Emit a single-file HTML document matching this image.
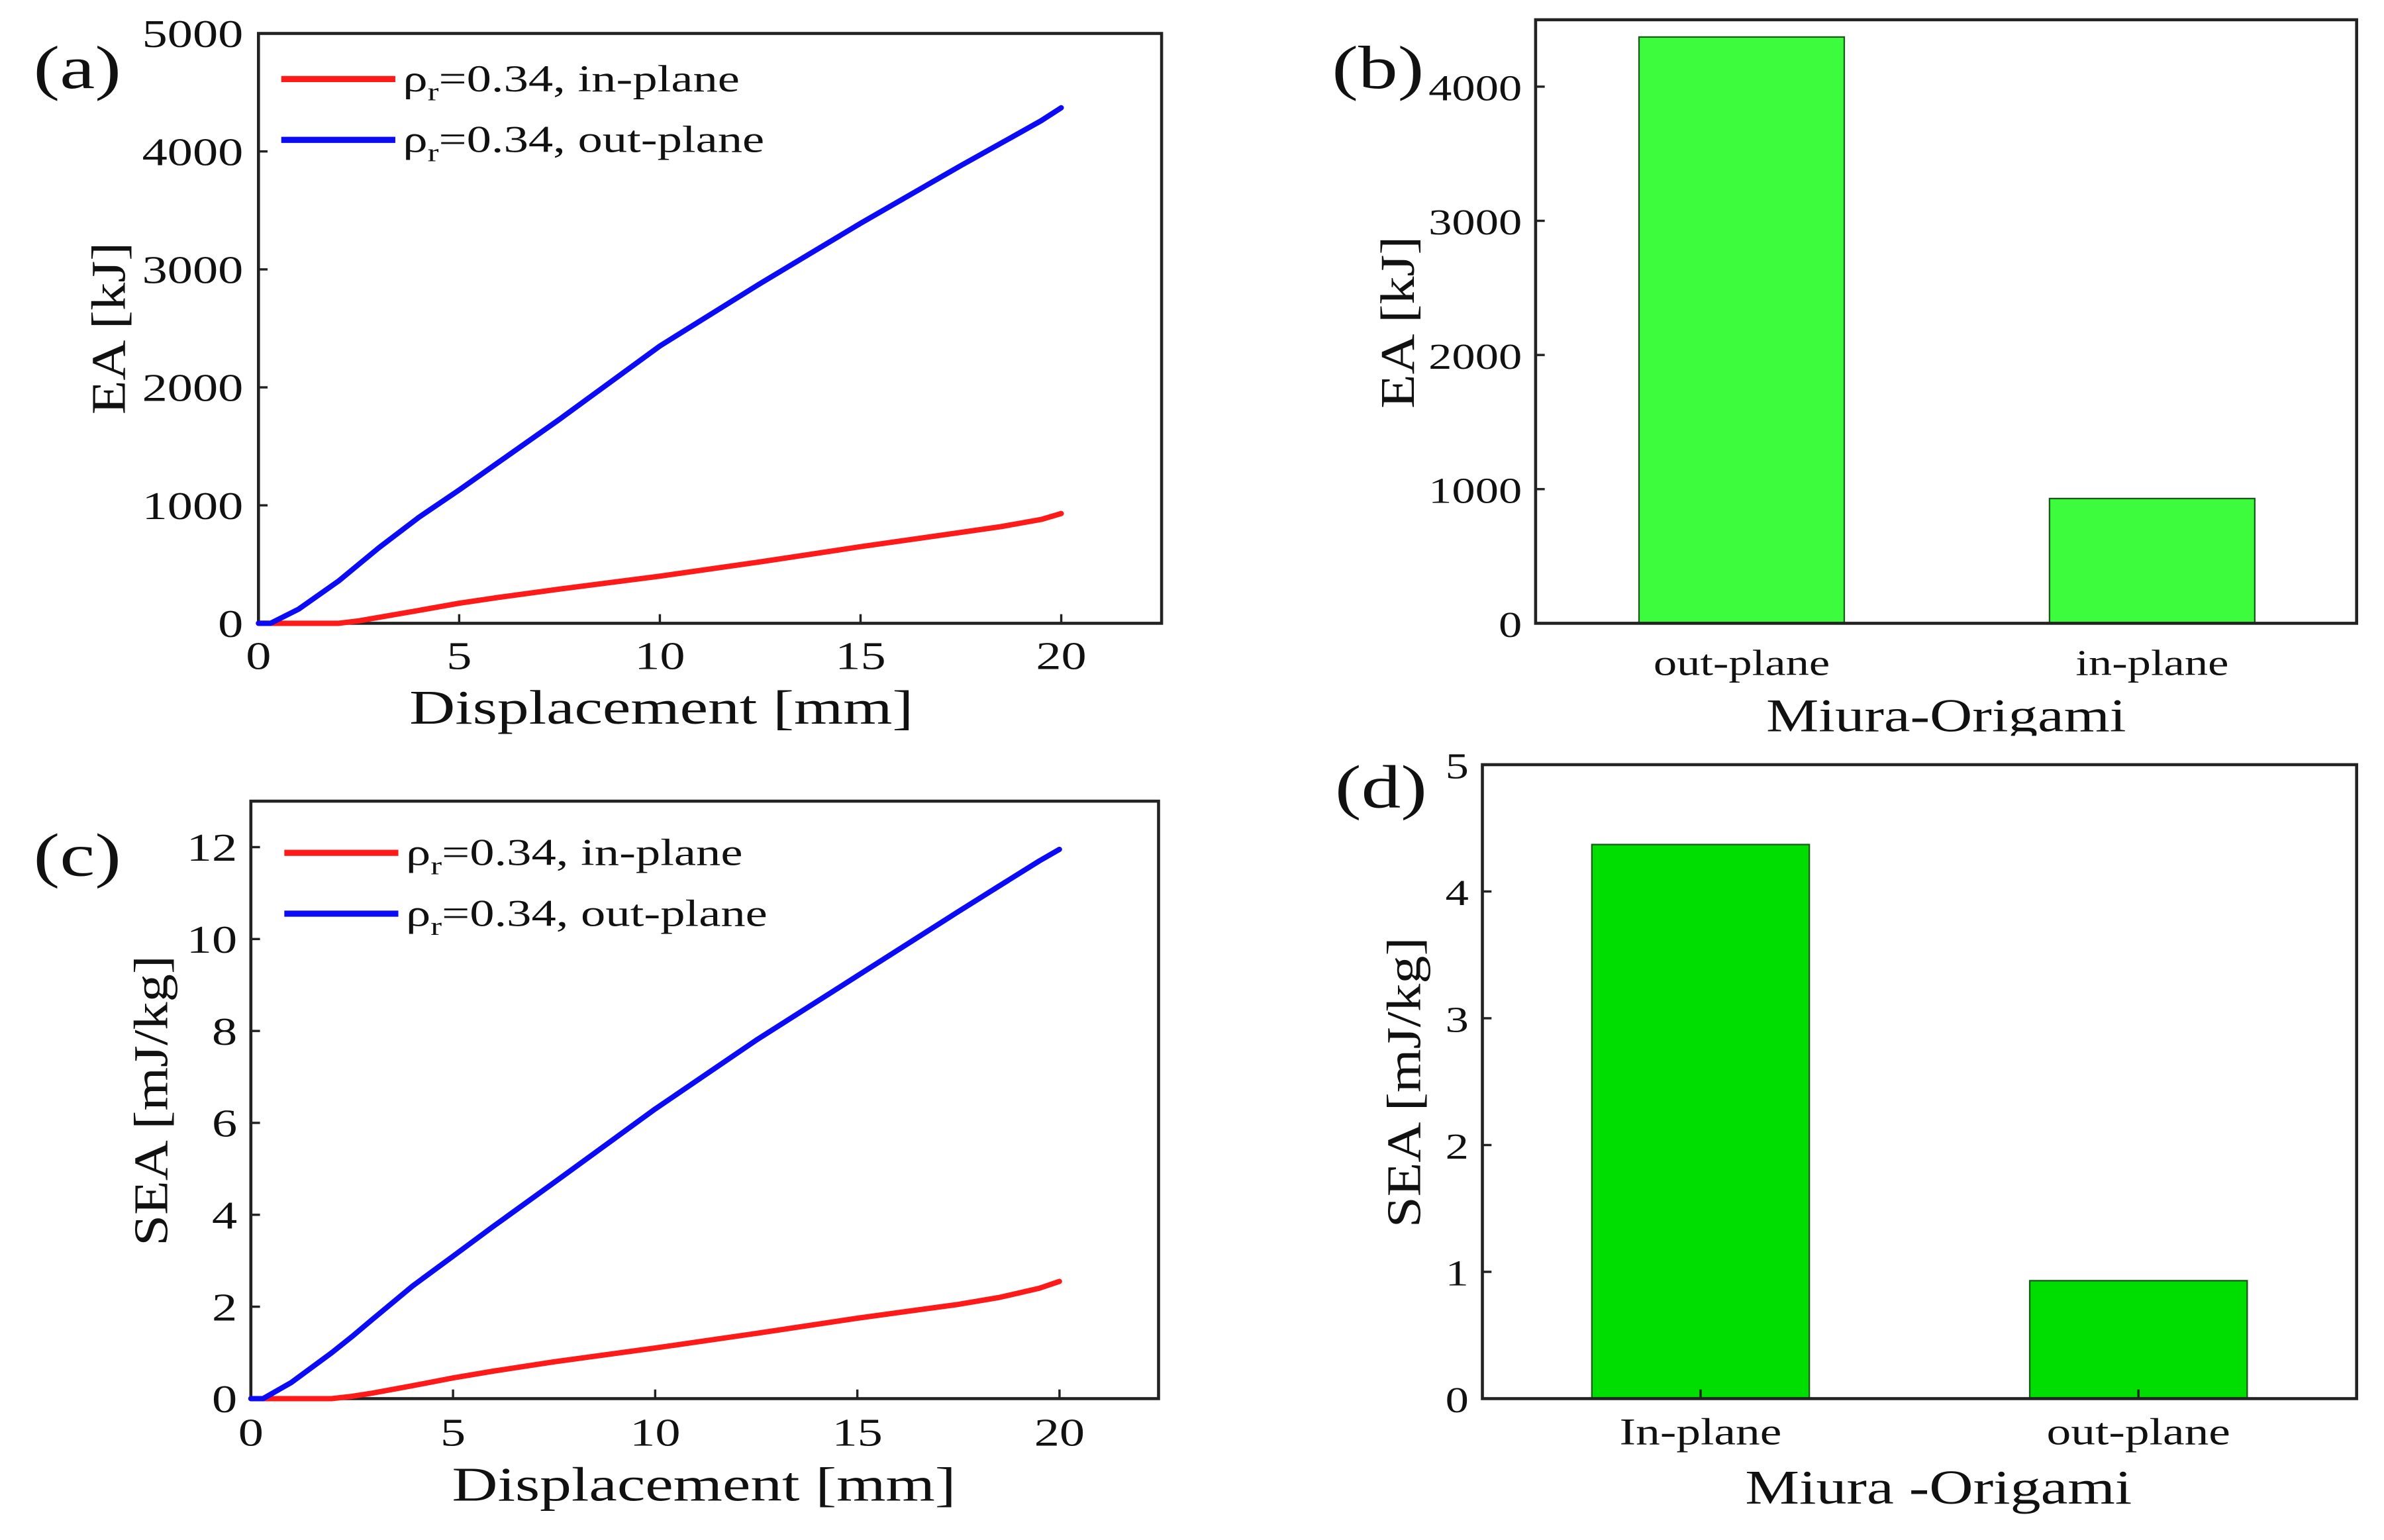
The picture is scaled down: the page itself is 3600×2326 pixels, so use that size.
<!DOCTYPE html>
<html><head><meta charset="utf-8"><style>
html,body{margin:0;padding:0;background:#fff;}
svg{display:block;font-family:"Liberation Serif",serif;}
</style></head><body>
<svg id="fig" width="3600" height="2326" viewBox="0 0 1568 1013" preserveAspectRatio="none">
<defs><clipPath id="clipb"><rect x="-400" y="-40" width="800" height="43"/></clipPath></defs>
</svg>
<script>
// ---- data ----
const dispX = [0, 0.3, 1, 2, 2.5, 3, 4, 5, 6, 7.5, 10, 12.5, 15, 17.5, 18.5, 19.5, 20];
const eaOut = [0, 0, 120, 360, 500, 640, 900, 1130, 1370, 1730, 2350, 2880, 3390, 3880, 4070, 4260, 4370];
const eaIn  = [0, 0, 0, 0, 20, 50, 110, 170, 220, 290, 400, 520, 650, 770, 820, 880, 930];
const seaOut = [0, 0, 0.35, 1.0, 1.35, 1.72, 2.45, 3.1, 3.75, 4.7, 6.3, 7.8, 9.2, 10.6, 11.15, 11.7, 11.95];
const seaIn  = [0, 0, 0, 0, 0.05, 0.12, 0.28, 0.45, 0.6, 0.8, 1.1, 1.42, 1.75, 2.05, 2.2, 2.4, 2.55];
const barCatsB = ["out-plane", "in-plane"];
const barValsB = [4370, 930];
const barCatsD = ["In-plane", "out-plane"];
const barValsD = [4.37, 0.93];
const xTicks = [0, 5, 10, 15, 20];
const eaTicks = [0, 1000, 2000, 3000, 4000, 5000];
const seaTicks = [0, 2, 4, 6, 8, 10, 12];
const eaBarTicks = [0, 1000, 2000, 3000, 4000];
const seaBarTicks = [0, 1, 2, 3, 4, 5];

const svg = document.getElementById('fig');
const NS = 'http://www.w3.org/2000/svg';
function mk(tag, attrs, parent, txt){
  const e = document.createElementNS(NS, tag);
  for (const k in attrs) e.setAttribute(k, attrs[k]);
  if (txt !== undefined) e.textContent = txt;
  (parent || svg).appendChild(e);
  return e;
}
function lin(d0,d1,r0,r1){ return v => r0 + (v-d0)/(d1-d0)*(r1-r0); }
const SX = 1.28;
// stretched text: placed in a group with translate/rotate/scale
function stxt(parent, x, y, s, size, anchor, rot, sx){
  const g = mk('g',{transform:'translate('+x+','+y+')'+(rot?' rotate('+rot+')':'')+' scale('+(sx||SX)+',1)'},parent);
  const t = mk('text',{x:0,y:0,'font-size':size,'text-anchor':anchor||'start',fill:'#111'},g,s);
  return t;
}
function frame(L,T,R,B,name){
  const r = mk('rect',{x:L,y:T,width:R-L,height:B-T,fill:'none',stroke:'#222','stroke-width':2});
  
  
}
function yAxis(ticks, sy, L, lblX, name, size){
  const g = mk('g',{});
  
  
  ticks.forEach(t=>{
    mk('line',{x1:L,x2:L+6,y1:sy(t),y2:sy(t),stroke:'#222','stroke-width':1.5},g);
    const tx = stxt(g,lblX,sy(t)+9,String(t),size||26,'end');
    
    
  });
}
function xAxis(ticks, sx, B, lblY, name){
  const g = mk('g',{});
  
  
  ticks.forEach(t=>{
    mk('line',{x1:sx(t),x2:sx(t),y1:B,y2:B-6,stroke:'#222','stroke-width':1.5},g);
    const tx = stxt(g,sx(t),lblY,String(t),26,'middle');
    
    
  });
}
function text(x,y,s,size,name,anchor,rot,sx){
  const t = stxt(svg,x,y,s,size,anchor,rot,sx);
  
  
  return t;
}
function line(xs, ys, sx, sy, color, name){
  const d = xs.map((v,i)=>(i?'L':'M')+sx(v).toFixed(1)+','+sy(ys[i]).toFixed(1)).join(' ');
  const p = mk('path',{d:d,fill:'none',stroke:color,'stroke-width':3.5,'stroke-linejoin':'round','stroke-linecap':'round'});
  
  
}
function legend(x,y,color,suffix,name){
  const g = mk('g',{});
  
  
  mk('line',{x1:x,x2:x+75,y1:y,y2:y,stroke:color,'stroke-width':4},g);
  const t = stxt(g,x+80,y+8,'',25,'start',0,1.3);
  t.innerHTML = 'ρ<tspan font-size="17" dy="6">r</tspan><tspan dy="-6">=0.34, '+suffix+'</tspan>';
}

// ---- panel (a) ----
{
  const L=170,T=22,R=764,B=410;
  const sx = lin(0,22.5,L,R), sy = lin(0,5000,B,T);
  frame(L,T,R,B,'panel-a-frame');
  yAxis(eaTicks, sy, L, 160, 'panel-a-y-axis');
  xAxis(xTicks, sx, B, 440, 'panel-a-x-axis');
  line(dispX, eaIn, sx, sy, '#ff1a1a', 'ea-in-plane-line');
  line(dispX, eaOut, sx, sy, '#0b0bf5', 'ea-out-plane-line');
  legend(185,52,'#ff1a1a','in-plane','legend-in-plane');
  legend(185,92,'#0b0bf5','out-plane','legend-out-plane');
  text(22,58,'(a)',40,'panel-a-label','start',0,1.3);
  text(435,476,'Displacement [mm]',32,'panel-a-x-title','middle',0,1.3);
  text(82,216,'EA [kJ]',32,'panel-a-y-title','middle',-90,1.15);
}
// ---- panel (c) ----
{
  const L=165,T=527,R=762,B=920;
  const sx = lin(0,22.45,L,R), sy = lin(0,13,B,T);
  frame(L,T,R,B,'panel-c-frame');
  yAxis(seaTicks, sy, L, 156, 'panel-c-y-axis');
  xAxis(xTicks, sx, B, 951, 'panel-c-x-axis');
  line(dispX, seaIn, sx, sy, '#ff1a1a', 'sea-in-plane-line');
  line(dispX, seaOut, sx, sy, '#0b0bf5', 'sea-out-plane-line');
  legend(187,561,'#ff1a1a','in-plane','legend-in-plane-c');
  legend(187,601,'#0b0bf5','out-plane','legend-out-plane-c');
  text(22,576,'(c)',40,'panel-c-label','start',0,1.3);
  text(463,987,'Displacement [mm]',32,'panel-c-x-title','middle',0,1.3);
  text(110,724,'SEA [mJ/kg]',32,'panel-c-y-title','middle',-90,1.15);
}
// ---- panel (b) ----
{
  const L=1010,T=13,R=1550,B=410;
  const sy = lin(0,4000,B,57);
  const centers = [1145.5, 1415.5], bw = 135;
  barValsB.forEach((v,i)=>{
    const r = mk('rect',{x:centers[i]-bw/2,y:sy(v),width:bw,height:B-sy(v),fill:'#3dfc3d',stroke:'#1a5a1a','stroke-width':1});
    
    
    text(centers[i],444,barCatsB[i],24,'x-tick-label','middle');
  });
  frame(L,T,R,B,'panel-b-frame');
  yAxis(eaBarTicks, sy, L, 1001, 'panel-b-y-axis', 24);
  text(876,58,'(b)',40,'panel-b-label','start',0,1.3);
  const tt = text(1280,481,'Miura-Origami',31,'panel-b-x-title','middle',0,1.25);
  tt.setAttribute('clip-path','url(#clipb)');
  text(930,212,'EA [kJ]',32,'panel-b-y-title','middle',-90,1.15);
}
// ---- panel (d) ----
{
  const L=975,T=503,R=1550,B=920;
  const sy = lin(0,5,B,T);
  const centers = [1118.5, 1406.5], bw = 143;
  barValsD.forEach((v,i)=>{
    const r = mk('rect',{x:centers[i]-bw/2,y:sy(v),width:bw,height:B-sy(v),fill:'#00dd00',stroke:'#1a5a1a','stroke-width':1});
    
    
    mk('line',{x1:centers[i],x2:centers[i],y1:B,y2:B-6,stroke:'#222','stroke-width':1.5});
    text(centers[i],950,barCatsD[i],25,'x-tick-label','middle');
  });
  frame(L,T,R,B,'panel-d-frame');
  yAxis(seaBarTicks, sy, L, 966, 'panel-d-y-axis', 24);
  text(878,531,'(d)',40,'panel-d-label','start',0,1.3);
  text(1275,989,'Miura -Origami',32,'panel-d-x-title','middle',0,1.25);
  text(934,712,'SEA [mJ/kg]',32,'panel-d-y-title','middle',-90,1.15);
}
</script>
</body></html>
